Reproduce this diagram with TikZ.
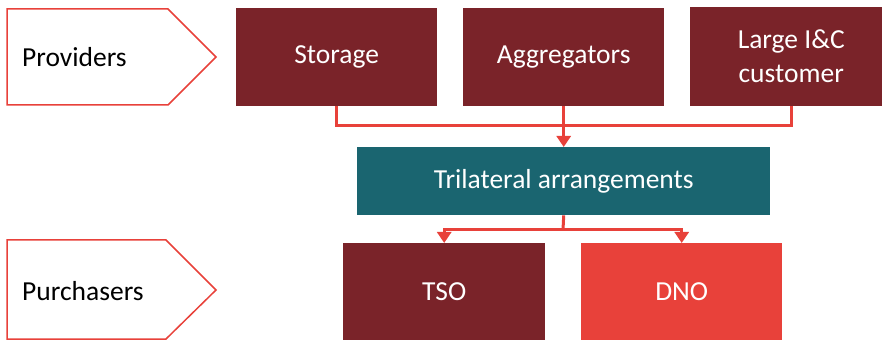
\documentclass[tikz,border=0pt]{standalone}
\usepackage{fontspec}
\setmainfont{Carlito}
\usetikzlibrary{arrows.meta}
\definecolor{darkred}{HTML}{7A2329}
\definecolor{teal}{HTML}{1A6570}
\definecolor{brightred}{HTML}{E8413A}
\tikzset{
  box/.style={fill=darkred, text=white, draw=none, anchor=north west, inner sep=0pt,
    align=center, font=\fontsize{27.5}{34}\selectfont},
  tag/.style={draw=brightred, line width=1.5pt, fill=white},
  tagtext/.style={font=\fontsize{27.5}{34}\selectfont, anchor=west, inner sep=0pt},
  link/.style={draw=brightred, line width=3pt},
  arr/.style={link, -{Triangle[length=11pt,width=14pt]}},
}
\begin{document}
\begin{tikzpicture}[x=1pt,y=-1pt]
\useasboundingbox (0,0) rectangle (882,344);
% side labels
\draw[tag] (7,9) -- (168,9) -- (216,57) -- (168,105) -- (7,105) -- cycle;
\node[tagtext] (prov) at (22,57) {Providers};
\draw[tag] (7,240) -- (166,240) -- (216,290) -- (166,339) -- (7,339) -- cycle;
\node[tagtext] (purch) at (22,291) {Purchasers};
% providers
\node[box, minimum width=201, minimum height=98] (stor) at (236,8) {Storage};
\node[box, minimum width=201, minimum height=98] (aggr) at (463,8) {Aggregators};
\node[box, minimum width=202, minimum height=99] (lic) at (690,7) {Large I\&C\\customer};
% arrangement
\node[box, fill=teal, minimum width=413, minimum height=68] (tri) at (357,147) {Trilateral arrangements};
% purchasers
\node[box, minimum width=202, minimum height=97] (tso) at (343,243) {TSO};
\node[box, fill=brightred, minimum width=201, minimum height=97] (dno) at (581,243) {DNO};
% connectors
\coordinate (bus) at (563,126);
\draw[link] (stor.south) |- (bus) -| (lic.south);
\draw[arr] (aggr.south) -- (tri.north);
\coordinate (split) at (563,230);
\draw[link] (tri.south) -- (split);
\draw[arr] (split) -| (tso.north);
\draw[arr] (split) -| (dno.north);
\end{tikzpicture}
\end{document}
